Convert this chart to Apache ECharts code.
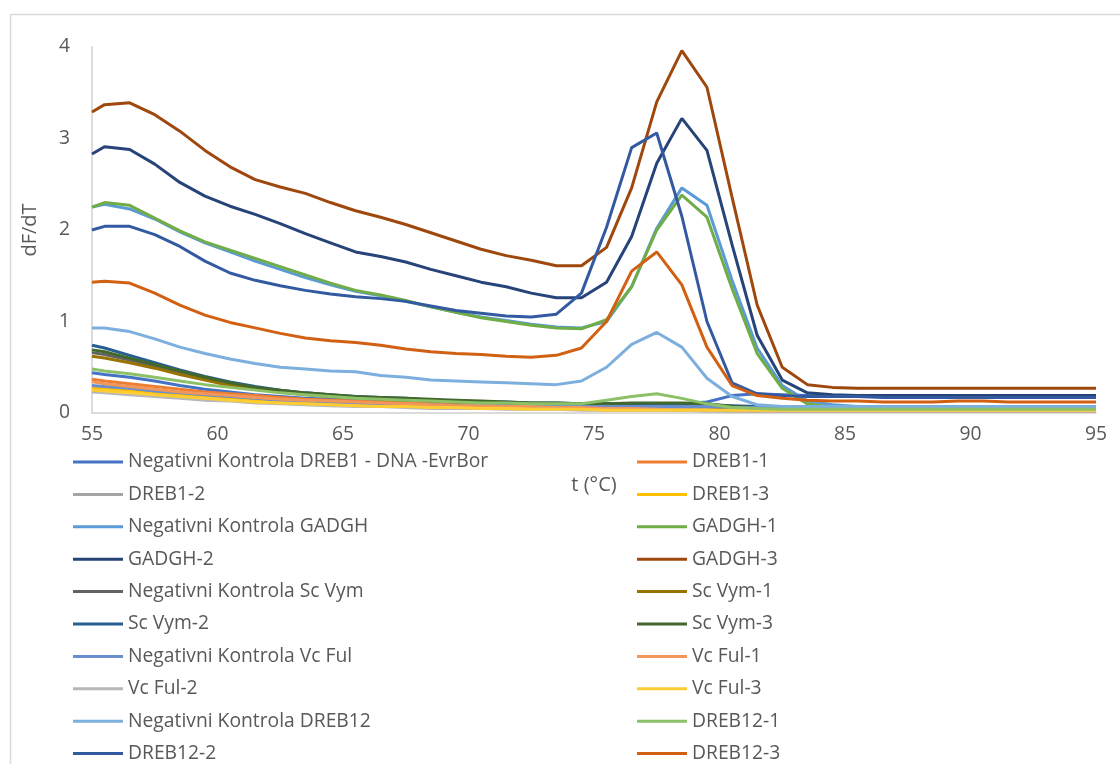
<!DOCTYPE html>
<html>
<head>
<meta charset="utf-8">
<script src="https://cdn.jsdelivr.net/npm/echarts@6/dist/echarts.min.js"></script>
<style>
html,body{margin:0;padding:0;background:#fff;}
#chart{width:1120px;height:764px;}
</style>
</head>
<body>
<div id="chart"></div>
<script>
// Temperatures (°C)
const temps = [55,55.5,56.5,57.5,58.5,59.5,60.5,61.5,62.5,63.5,64.5,65.5,66.5,67.5,68.5,69.5,70.5,71.5,72.5,73.5,74.5,75.5,76.5,77.5,78.5,79.5,80.5,81.5,82.5,83.5,84.5,85.5,86.5,87.5,88.5,89.5,90.5,91.5,92.5,93.5,94.5,95];

const yTicks = [0,1,2,3,4];
const xTicks = [55,60,65,70,75,80,85,90,95];

const negDREB1 = [0.44,0.42,0.39,0.35,0.30,0.26,0.23,0.20,0.18,0.16,0.15,0.14,0.13,0.12,0.12,0.11,0.11,0.11,0.10,0.10,0.10,0.10,0.10,0.10,0.10,0.12,0.19,0.21,0.20,0.19,0.18,0.18,0.18,0.17,0.17,0.17,0.17,0.17,0.17,0.17,0.17,0.17];
const dreb1_1 = [0.37,0.35,0.32,0.29,0.26,0.23,0.21,0.19,0.17,0.15,0.14,0.13,0.12,0.11,0.10,0.09,0.09,0.08,0.08,0.07,0.07,0.06,0.06,0.05,0.05,0.04,0.04,0.03,0.03,0.03,0.03,0.03,0.03,0.03,0.03,0.03,0.03,0.03,0.03,0.03,0.03,0.03];
const dreb1_2 = [0.28,0.27,0.25,0.22,0.20,0.18,0.16,0.14,0.13,0.12,0.11,0.10,0.09,0.08,0.08,0.07,0.07,0.06,0.06,0.06,0.05,0.05,0.05,0.04,0.04,0.04,0.03,0.03,0.03,0.03,0.03,0.03,0.03,0.03,0.03,0.03,0.03,0.03,0.03,0.03,0.03,0.03];
const dreb1_3 = [0.27,0.26,0.24,0.21,0.19,0.17,0.15,0.13,0.12,0.11,0.10,0.09,0.08,0.07,0.07,0.06,0.06,0.05,0.05,0.05,0.04,0.04,0.04,0.04,0.03,0.03,0.03,0.02,0.02,0.02,0.02,0.02,0.02,0.02,0.02,0.02,0.02,0.02,0.02,0.02,0.02,0.02];
const negGADGH = [2.25,2.28,2.23,2.12,1.98,1.86,1.76,1.66,1.57,1.48,1.40,1.33,1.28,1.22,1.16,1.10,1.05,1.01,0.97,0.94,0.93,1.00,1.38,2.02,2.46,2.27,1.45,0.71,0.30,0.13,0.09,0.07,0.07,0.07,0.07,0.07,0.06,0.06,0.06,0.06,0.06,0.06];
const gadgh_1 = [2.25,2.30,2.27,2.13,1.99,1.87,1.78,1.69,1.60,1.51,1.42,1.34,1.29,1.23,1.16,1.10,1.04,1.00,0.96,0.93,0.92,1.02,1.38,2.00,2.38,2.14,1.36,0.65,0.27,0.10,0.06,0.05,0.05,0.05,0.05,0.05,0.04,0.04,0.04,0.04,0.04,0.04];
const gadgh_2 = [2.83,2.91,2.88,2.72,2.52,2.37,2.26,2.17,2.07,1.96,1.86,1.76,1.71,1.65,1.57,1.50,1.43,1.38,1.31,1.26,1.26,1.43,1.93,2.73,3.22,2.87,1.84,0.85,0.36,0.22,0.20,0.19,0.19,0.19,0.19,0.19,0.19,0.19,0.19,0.19,0.19,0.19];
const gadgh_3 = [3.29,3.37,3.39,3.26,3.08,2.87,2.69,2.55,2.47,2.40,2.30,2.21,2.14,2.06,1.97,1.88,1.79,1.72,1.67,1.61,1.61,1.81,2.46,3.40,3.96,3.56,2.36,1.18,0.50,0.31,0.28,0.27,0.27,0.27,0.27,0.27,0.27,0.27,0.27,0.27,0.27,0.27];
const negScVym = [0.66,0.64,0.58,0.51,0.44,0.37,0.31,0.27,0.23,0.21,0.19,0.17,0.16,0.15,0.14,0.13,0.12,0.11,0.10,0.10,0.09,0.09,0.09,0.09,0.09,0.08,0.06,0.05,0.05,0.05,0.05,0.05,0.05,0.05,0.05,0.05,0.05,0.05,0.05,0.05,0.05,0.05];
const scVym_1 = [0.62,0.60,0.55,0.49,0.42,0.36,0.30,0.26,0.23,0.20,0.18,0.17,0.15,0.14,0.13,0.12,0.11,0.10,0.10,0.09,0.09,0.08,0.08,0.08,0.08,0.07,0.05,0.04,0.04,0.04,0.04,0.04,0.04,0.04,0.04,0.04,0.04,0.04,0.04,0.04,0.04,0.04];
const scVym_2 = [0.74,0.71,0.63,0.55,0.47,0.40,0.34,0.29,0.25,0.22,0.20,0.18,0.17,0.16,0.14,0.13,0.12,0.12,0.11,0.11,0.10,0.10,0.10,0.10,0.10,0.09,0.08,0.07,0.06,0.06,0.06,0.06,0.06,0.06,0.06,0.06,0.06,0.06,0.06,0.06,0.06,0.06];
const scVym_3 = [0.69,0.67,0.60,0.53,0.46,0.39,0.33,0.28,0.25,0.22,0.20,0.18,0.17,0.16,0.15,0.14,0.13,0.12,0.11,0.11,0.10,0.10,0.11,0.11,0.11,0.10,0.07,0.06,0.05,0.05,0.05,0.05,0.05,0.05,0.05,0.05,0.05,0.05,0.05,0.05,0.05,0.05];
const negVcFul = [0.30,0.29,0.27,0.24,0.22,0.20,0.18,0.16,0.14,0.13,0.12,0.11,0.10,0.09,0.09,0.08,0.08,0.08,0.07,0.07,0.07,0.07,0.07,0.07,0.07,0.07,0.06,0.06,0.06,0.06,0.06,0.06,0.06,0.06,0.06,0.06,0.06,0.06,0.06,0.06,0.06,0.06];
const vcFul_1 = [0.34,0.32,0.29,0.26,0.23,0.21,0.19,0.17,0.15,0.14,0.13,0.12,0.11,0.10,0.09,0.08,0.08,0.07,0.07,0.06,0.06,0.05,0.05,0.04,0.03,0.03,0.02,0.02,0.02,0.02,0.02,0.02,0.02,0.02,0.02,0.02,0.02,0.02,0.02,0.02,0.02,0.02];
const vcFul_2 = [0.23,0.22,0.20,0.18,0.16,0.14,0.13,0.11,0.10,0.09,0.08,0.07,0.07,0.06,0.05,0.05,0.05,0.04,0.04,0.04,0.03,0.03,0.03,0.03,0.03,0.02,0.02,0.02,0.02,0.02,0.02,0.02,0.02,0.02,0.02,0.02,0.02,0.02,0.02,0.02,0.02,0.02];
const vcFul_3 = [0.25,0.24,0.22,0.20,0.18,0.16,0.14,0.12,0.11,0.10,0.09,0.08,0.07,0.07,0.06,0.06,0.05,0.05,0.04,0.04,0.04,0.03,0.03,0.03,0.03,0.03,0.03,0.03,0.03,0.03,0.03,0.03,0.03,0.03,0.03,0.03,0.03,0.03,0.03,0.03,0.03,0.03];
const negDREB12 = [0.93,0.93,0.89,0.81,0.72,0.65,0.59,0.54,0.50,0.48,0.46,0.45,0.41,0.39,0.36,0.35,0.34,0.33,0.32,0.31,0.35,0.50,0.75,0.88,0.72,0.38,0.18,0.09,0.07,0.07,0.07,0.07,0.07,0.07,0.07,0.07,0.07,0.07,0.07,0.07,0.07,0.07];
const dreb12_1 = [0.48,0.46,0.43,0.39,0.35,0.31,0.28,0.25,0.22,0.20,0.18,0.16,0.15,0.14,0.13,0.12,0.11,0.11,0.10,0.10,0.10,0.14,0.18,0.21,0.16,0.10,0.06,0.05,0.04,0.04,0.04,0.04,0.04,0.04,0.04,0.04,0.04,0.04,0.04,0.04,0.04,0.04];
const dreb12_2 = [2.00,2.04,2.04,1.95,1.82,1.66,1.53,1.45,1.39,1.34,1.30,1.27,1.25,1.22,1.17,1.12,1.09,1.06,1.05,1.08,1.31,2.03,2.90,3.06,2.15,1.00,0.33,0.21,0.19,0.18,0.18,0.18,0.17,0.17,0.17,0.17,0.17,0.17,0.17,0.17,0.17,0.17];
const dreb12_3 = [1.43,1.44,1.42,1.31,1.18,1.07,0.99,0.93,0.87,0.82,0.79,0.77,0.74,0.70,0.67,0.65,0.64,0.62,0.61,0.63,0.71,1.00,1.55,1.76,1.40,0.72,0.30,0.19,0.16,0.14,0.13,0.13,0.12,0.12,0.12,0.13,0.13,0.12,0.12,0.12,0.12,0.12];

const seriesNames = ['Negativni Kontrola DREB1 - DNA -EvrBor','DREB1-1','DREB1-2','DREB1-3','Negativni Kontrola GADGH','GADGH-1','GADGH-2','GADGH-3','Negativni Kontrola Sc Vym','Sc Vym-1','Sc Vym-2','Sc Vym-3','Negativni Kontrola Vc Ful','Vc Ful-1','Vc Ful-2','Vc Ful-3','Negativni Kontrola DREB12','DREB12-1','DREB12-2','DREB12-3'];
const seriesValues = [negDREB1,dreb1_1,dreb1_2,dreb1_3,negGADGH,gadgh_1,gadgh_2,gadgh_3,negScVym,scVym_1,scVym_2,scVym_3,negVcFul,vcFul_1,vcFul_2,vcFul_3,negDREB12,dreb12_1,dreb12_2,dreb12_3];
const seriesColors = ['#4472C4','#ED7D31','#A5A5A5','#FFC000','#5B9BD5','#70AD47','#264478','#9E480E','#636363','#997300','#255E91','#43682B','#698ED0','#F1975A','#B7B7B7','#FFCD33','#7CAFDD','#8CC168','#335AA1','#D26012'];

const FONT = 'Open Sans';
const TXT = '#595959';

const chart = echarts.init(document.getElementById('chart'), null, {renderer:'canvas'});

const series = seriesNames.map((name, k) => ({
  name: name,
  type: 'line',
  symbol: 'none',
  showSymbol: false,
  smooth: false,
  color: seriesColors[k],
  lineStyle: {width: 3, color: seriesColors[k]},
  emphasis: {disabled: true},
  data: temps.map((t, i) => [t, seriesValues[k][i]])
}));

const legendCommon = {
  orient: 'vertical',
  top: 446,
  height: 340,
  icon: 'rect',
  itemWidth: 50,
  itemHeight: 3,
  itemGap: 10.4,
  selectedMode: false,
  textStyle: {color: TXT, fontSize: 19.3, fontFamily: FONT, lineHeight: 22}
};

chart.setOption({
  animation: false,
  backgroundColor: '#ffffff',
  textStyle: {fontFamily: FONT},
  graphic: [{
    type: 'rect',
    shape: {x: 10.5, y: 14.5, width: 1200, height: 800},
    style: {fill: 'none', stroke: '#D9D9D9', lineWidth: 1.5},
    silent: true, z: -10
  }],
  grid: {left: 92, right: 24, top: 47, bottom: 351, containLabel: false},
  xAxis: {
    type: 'value', min: xTicks[0], max: xTicks[xTicks.length-1], interval: 5,
    name: 't (°C)', nameLocation: 'middle', nameGap: 62,
    nameTextStyle: {color: TXT, fontSize: 20, fontFamily: FONT},
    axisLine: {show: true, lineStyle: {color: '#D0D0D0', width: 1.5}},
    axisTick: {show: false},
    splitLine: {show: false},
    axisLabel: {color: TXT, fontSize: 19.3, fontFamily: FONT, margin: 12}
  },
  yAxis: {
    type: 'value', min: yTicks[0], max: yTicks[yTicks.length-1], interval: 1,
    name: 'dF/dT', nameLocation: 'middle', nameGap: 52, nameRotate: 90,
    nameTextStyle: {color: TXT, fontSize: 20, fontFamily: FONT},
    axisLine: {show: true, lineStyle: {color: '#D0D0D0', width: 1.5}},
    axisTick: {show: false},
    splitLine: {show: false},
    axisLabel: {color: TXT, fontSize: 19.3, fontFamily: FONT, margin: 22}
  },
  legend: [
    Object.assign({}, legendCommon, {left: 68, data: seriesNames.filter((n, i) => i % 2 === 0)}),
    Object.assign({}, legendCommon, {left: 632, data: seriesNames.filter((n, i) => i % 2 === 1)})
  ],
  series: series
});
</script>
</body>
</html>
